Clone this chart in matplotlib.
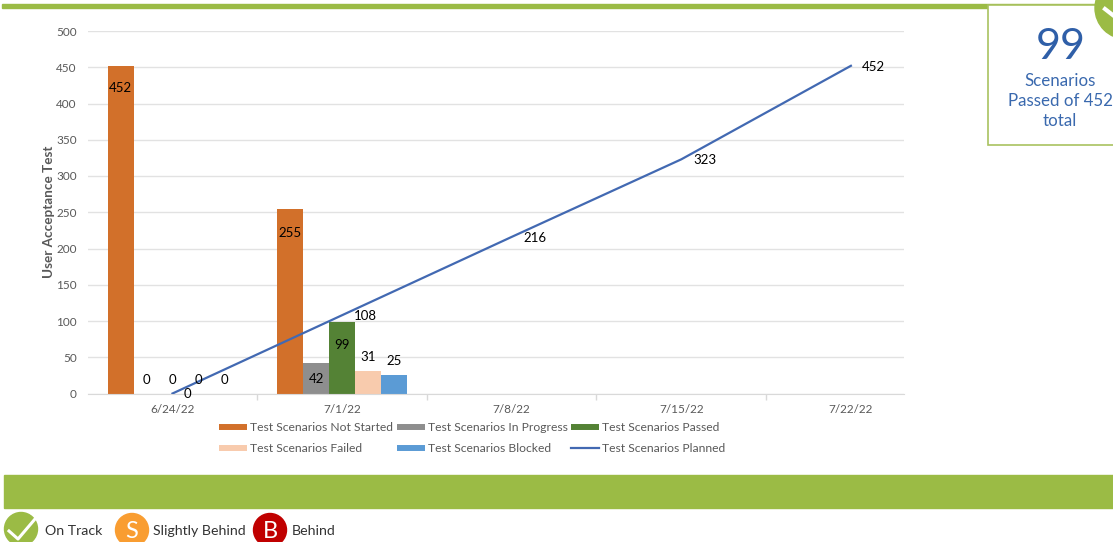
import numpy as np
import matplotlib
matplotlib.use('Agg')
import matplotlib.pyplot as plt
from matplotlib.lines import Line2D
from matplotlib.patches import Circle, Rectangle

plt.rcParams['font.family'] = ['Lato', 'DejaVu Sans']

dates = ['6/24/22', '7/1/22', '7/8/22', '7/15/22', '7/22/22']
not_started = [452, 255]
in_progress = [0, 42]
passed = [0, 99]
failed = [0, 31]
blocked = [0, 25]
planned = [0, 108, 216, 323, 452]

names = ['Test Scenarios Not Started', 'Test Scenarios In Progress', 'Test Scenarios Passed',
         'Test Scenarios Failed', 'Test Scenarios Blocked']
colors = ['#D2702A', '#8E8E8E', '#548235', '#F8CBAD', '#5B9BD5']
line_color = '#4269B2'
green = '#9BBB45'
gray = '#595959'

W, H = 1113, 542
fig = plt.figure(figsize=(W / 100, H / 100), dpi=100)

# page furniture in pixel coordinates
page = fig.add_axes([0, 0, 1, 1])
page.set_xlim(0, W)
page.set_ylim(H, 0)
page.axis('off')
page.add_patch(Rectangle((2, 4), W, 4, color=green))
page.add_patch(Rectangle((4, 475), W, 33, color=green))
page.add_patch(Rectangle((987.5, 5), 140, 140, fc='white', ec='#A9C260', lw=1.2))
page.add_patch(Circle((1126, 8), 31, color=green))
page.plot([1105, 1114], [9, 16], color='white', lw=3)
page.text(1061, 47, '99', color='#2F5FA8', fontsize=31, ha='center', va='center')
for txt, y in zip(['Scenarios', 'Passed of 452', 'total'], [81, 101, 121]):
    page.text(1060, y, txt, color='#3A69AE', fontsize=12.2, ha='center', va='center')

page.add_patch(Circle((21, 529), 16.5, color=green))
page.plot([9, 18, 35], [531, 539, 519], color='white', lw=2.2)
page.add_patch(Circle((132, 530), 16.5, color='#F99D31'))
page.text(132, 531, 'S', color='white', fontsize=17, ha='center', va='center')
page.add_patch(Circle((270, 530), 16.5, color='#C00000'))
page.text(270, 531, 'B', color='white', fontsize=17, ha='center', va='center')
for txt, x in zip(['On Track', 'Slightly Behind', 'Behind'], [45, 153, 292]):
    page.text(x, 531, txt, color='#333333', fontsize=10.2, va='center')

# chart area, 87.7..904 px wide and 31..393.5 px tall
left, right, top, bottom = 87.7, 904, 31, 393.5
ax = fig.add_axes([left / W, 1 - bottom / H, (right - left) / W, (bottom - top) / H])
ax.patch.set_alpha(0)

x = np.arange(len(dates))
bar_w = 26 / 169.6
series = [not_started, in_progress, passed, failed, blocked]
label_offsets = [
    [(0, -22), (0, -24)],
    [(0, 13), (0, -16)],
    [(0, 13), (0, -23)],
    [(0, 13), (0, 14)],
    [(0, 13), (0, 14)],
]
for i, (vals, c) in enumerate(zip(series, colors)):
    pos = x[:len(vals)] + (i - 2) * bar_w
    ax.bar(pos, vals, width=bar_w, color=c, zorder=2)
    for px, v, (dx, dy) in zip(pos, vals, label_offsets[i]):
        ax.annotate(str(v), (px, v), xytext=(dx * 0.72, dy * 0.72), textcoords='offset points',
                    ha='center', va='center', fontsize=9.5, color='black', zorder=5)

ax.plot(x, planned, color=line_color, lw=1.6, zorder=3)
line_offsets = [(15, 0), (23, -1), (23, -1), (24, -1), (22, -1)]
for px, v, (dx, dy) in zip(x, planned, line_offsets):
    ax.annotate(str(v), (px, v), xytext=(dx * 0.72, dy * 0.72), textcoords='offset points',
                ha='center', va='center', fontsize=9.5, color='black', zorder=5)

ax.set_xlim(-0.5, -0.5 + (right - left) / 169.6)
ax.set_ylim(0, 500)
ax.set_yticks(range(0, 501, 50))
ax.set_xticks(x)
ax.set_xticklabels(dates)
ax.set_xticks(x[:-1] + 0.5, minor=True)
ax.tick_params(axis='x', which='major', length=0, labelsize=8.5, labelcolor=gray, pad=7.5)
ax.tick_params(axis='x', which='minor', length=4, color='#D9D9D9', width=1)
ax.tick_params(axis='y', length=0, labelsize=8.5, labelcolor=gray, pad=8)
ax.grid(axis='y', color='#E2E2E2', lw=1)
ax.set_axisbelow(True)
for s in ['top', 'right', 'left']:
    ax.spines[s].set_visible(False)
ax.spines['bottom'].set_color('#D9D9D9')
ax.set_ylabel('User Acceptance Test', fontsize=9.7, fontweight='bold', color=gray, labelpad=1)

# legend fills by column, so the order is not the series order
order = [0, 3, 1, 4, 2]
handles = [Line2D([], [], color=colors[i], lw=4.3, solid_capstyle='butt') for i in order]
labels = [names[i] for i in order]
handles.append(Line2D([], [], color=line_color, lw=1.6))
labels.append('Test Scenarios Planned')
fig.legend(handles, labels, ncol=3, frameon=False, loc='center left',
           bbox_to_anchor=(219 / W, 1 - 438 / H), fontsize=8.7, labelcolor=gray,
           handlelength=2.3, handletextpad=0.25, columnspacing=0.33, labelspacing=0.85,
           borderpad=0, borderaxespad=0)

fig.savefig('out.png', dpi=100)
